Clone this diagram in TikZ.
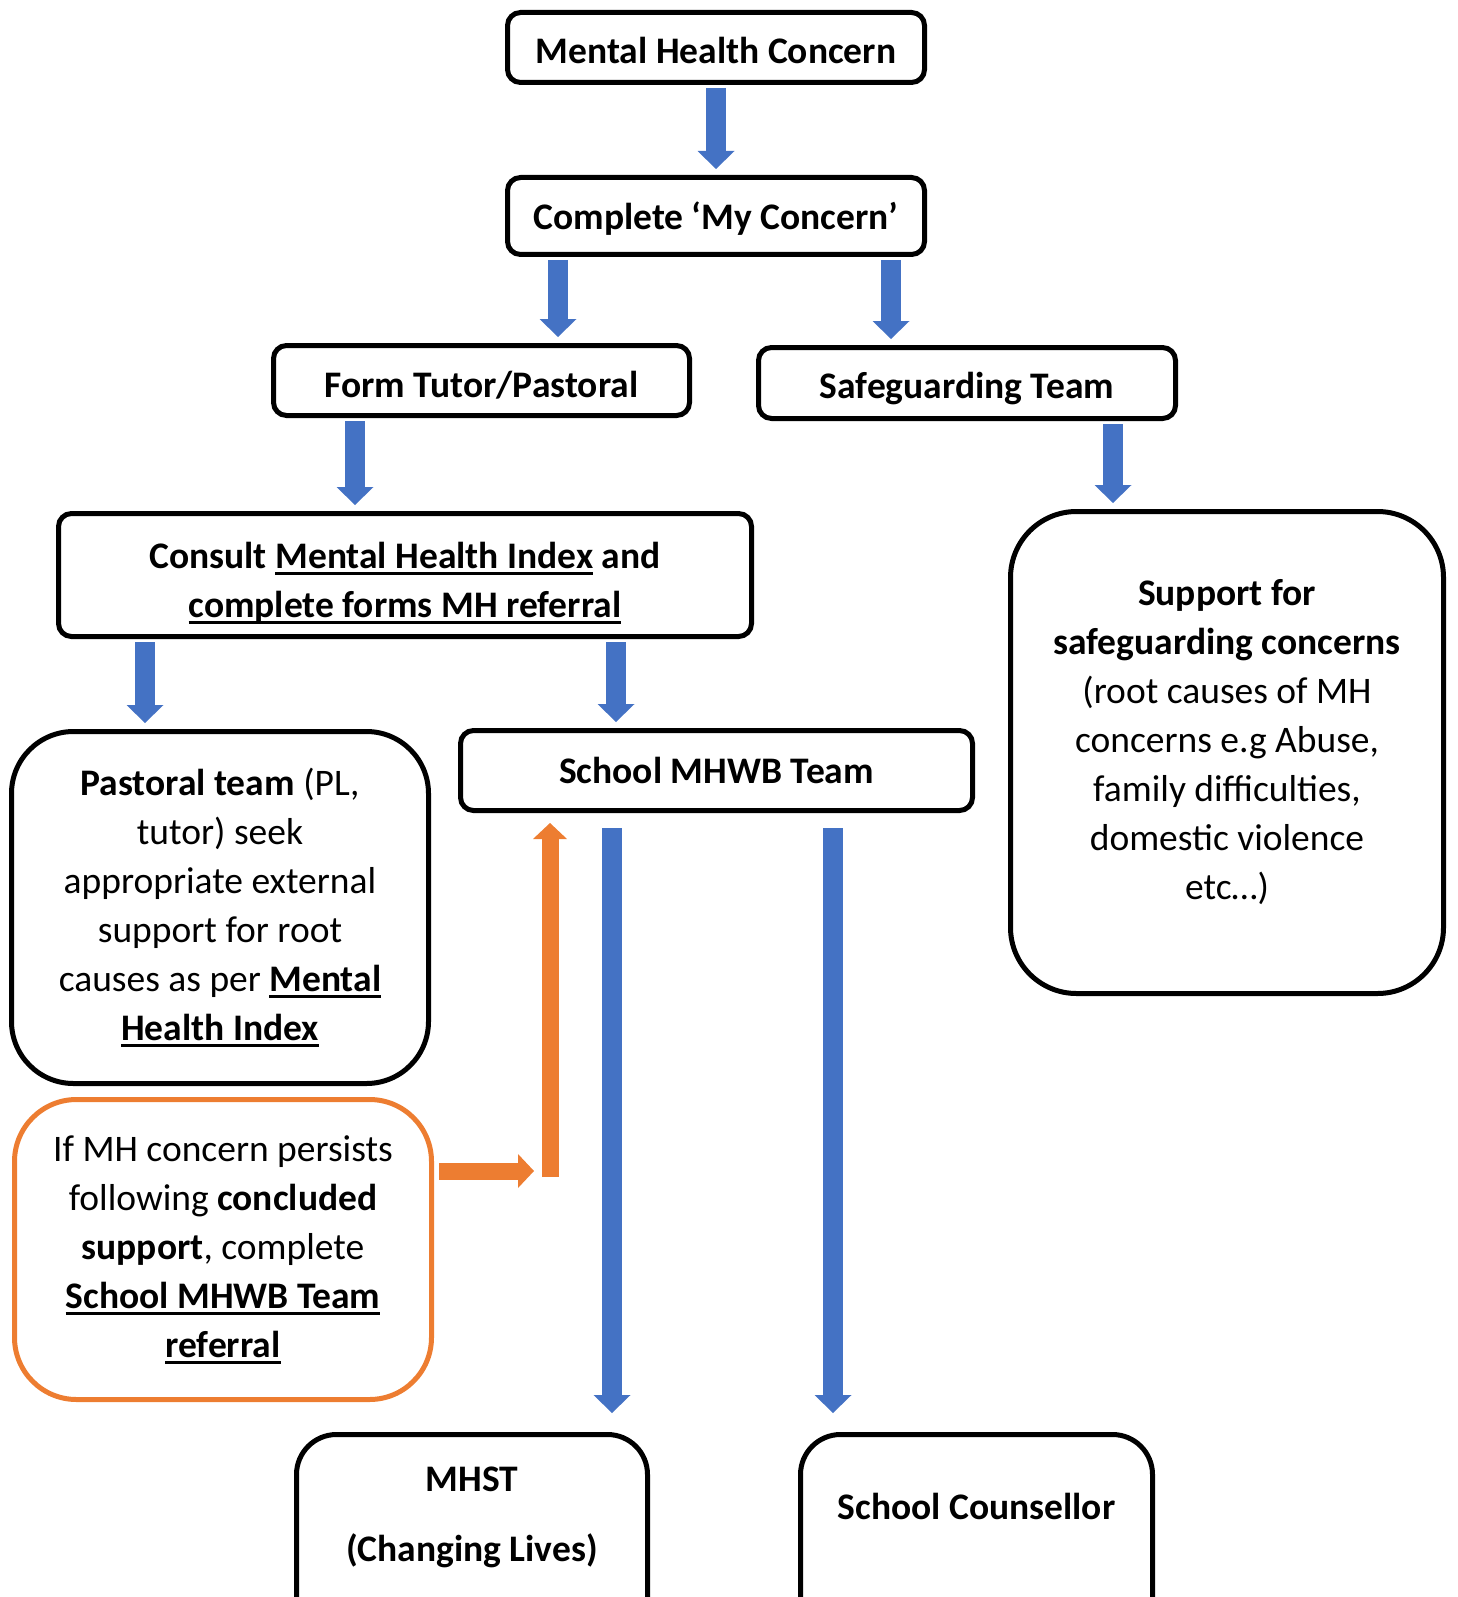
\documentclass[tikz,border=0pt]{standalone}
\usepackage{fontspec}
\setmainfont{Carlito}
\usepackage{xcolor}
\usetikzlibrary{arrows.meta}
\definecolor{arrowblue}{HTML}{4472C4}
\definecolor{arroworange}{HTML}{ED7D31}
\newlength{\ulwidth}
\newcommand{\ulbf}[1]{\settowidth{\ulwidth}{\textbf{#1}}\makebox[0pt][l]{\rule[-6.6pt]{\ulwidth}{2.6pt}}\textbf{#1}}

\tikzset{
    boxtext/.style = {align = center, font = \fontsize{37.5}{49}\selectfont},
    box/.style = {boxtext, draw, rectangle, rounded corners = 13pt, line width = 5pt, inner sep = 0pt},
    bigbox/.style = {box, rounded corners = 62pt},
    bluelink/.style = {draw = arrowblue, line width = 20pt, -{Triangle[width = 37pt, length = 18pt, line width = 0pt]}, shorten < = 3pt, shorten > = 6pt},
    orangelink/.style = {draw = arroworange, line width = 17pt, -{Triangle[width = 34pt, length = 16pt, line width = 0pt]}}
}

\begin{document}
\begin{tikzpicture}
        \useasboundingbox (0pt, 0pt) rectangle (1457pt, -1597pt);
        \clip (0pt, 0pt) rectangle (1457pt, -1597pt);
        % Nodes
        \node [box, text height = 32pt, minimum width = 417pt, minimum height = 70pt] (concern) at (716pt, -47.5pt) {\textbf{Mental Health Concern}};
        \node [box, text height = 32pt, minimum width = 417pt, minimum height = 77pt] (myconcern) at (716pt, -216pt) {\textbf{Complete ‘My Concern’}};
        \node [box, text height = 36pt, minimum width = 416pt, minimum height = 70pt] (tutor) at (481.5pt, -380.5pt) {\textbf{Form Tutor/Pastoral}};
        \node [box, text height = 38pt, minimum width = 417pt, minimum height = 71pt] (safeguard) at (967pt, -383pt) {\textbf{Safeguarding Team}};
        \node [box, minimum width = 693pt, minimum height = 123pt] (consult) at (405pt, -575pt) {\rule{0pt}{42pt}\textbf{Consult} \ulbf{Mental Health Index} \textbf{and}\\ \ulbf{complete forms MH referral}};
        \node [bigbox, rounded corners = 66pt, minimum width = 433pt, minimum height = 482pt] (support) at (1227pt, -752.5pt) {\textbf{Support for}\\ \textbf{safeguarding concerns}\\ (root causes of MH\\ concerns e.g Abuse,\\ family difficulties,\\ domestic violence\\ etc…)\rule[-27pt]{0pt}{27pt}};
        \node [bigbox, minimum width = 417pt, minimum height = 352pt] (pastoral) at (220pt, -907.5pt) {\textbf{Pastoral team} (PL,\\ tutor) seek\\ appropriate external\\ support for root\\ causes as per \ulbf{Mental}\\ \ulbf{Health Index}};
        \node [box, minimum width = 512pt, minimum height = 80pt] (mhwb) at (716.5pt, -770.5pt) {\textbf{School MHWB Team}};
        \node [bigbox, draw = arroworange, minimum width = 417pt, minimum height = 300pt] (persist) at (223pt, -1249.5pt) {If MH concern persists\\ following \textbf{concluded}\\ \textbf{support}, complete\\ \ulbf{School MHWB Team}\\ \ulbf{referral}};
        % Bottom boxes run past the edge of the page
        \node [box, rounded corners = 40pt, minimum width = 351pt, minimum height = 240pt, anchor = north] (mhst) at (472pt, -1432pt) {};
        \node [boxtext] (mhsttext) at ([yshift = -85pt]mhst.north) {\textbf{MHST}\\[21pt] \textbf{(Changing Lives)}};
        \node [box, rounded corners = 40pt, minimum width = 352pt, minimum height = 240pt, anchor = north] (counsellor) at (976.5pt, -1432pt) {};
        \node [boxtext] (counsellortext) at ([yshift = -74pt]counsellor.north) {\textbf{School Counsellor}};
        % Draw the links
        \draw [bluelink] (concern.south) -- (myconcern.north);
        \draw [bluelink] (558pt, 0pt |- myconcern.south) -- (558pt, 0pt |- tutor.north);
        \draw [bluelink] (891pt, 0pt |- myconcern.south) -- (891pt, 0pt |- safeguard.north);
        \draw [bluelink] (355pt, 0pt |- tutor.south) -- (355pt, 0pt |- consult.north);
        \draw [bluelink] (1113pt, 0pt |- safeguard.south) -- (1113pt, 0pt |- support.north);
        \draw [bluelink] (145pt, 0pt |- consult.south) -- (145pt, 0pt |- pastoral.north);
        \draw [bluelink] (616pt, 0pt |- consult.south) -- (616pt, 0pt |- mhwb.north);
        \draw [bluelink, shorten < = 15pt, shorten > = 19pt] (612pt, 0pt |- mhwb.south) -- (612pt, 0pt |- mhst.north);
        \draw [bluelink, shorten < = 15pt, shorten > = 19pt] (833pt, 0pt |- mhwb.south) -- (833pt, 0pt |- counsellor.north);
        % Orange link back up to the MHWB team
        \coordinate (elbow) at (550pt, -1171pt);
        \draw [orangelink, shorten < = 5pt, shorten > = 16pt] (persist.east |- elbow) -- (elbow);
        \draw [orangelink, shorten > = 10pt] ([yshift = -6pt]elbow) -- (elbow |- mhwb.south);
\end{tikzpicture}
\end{document}
